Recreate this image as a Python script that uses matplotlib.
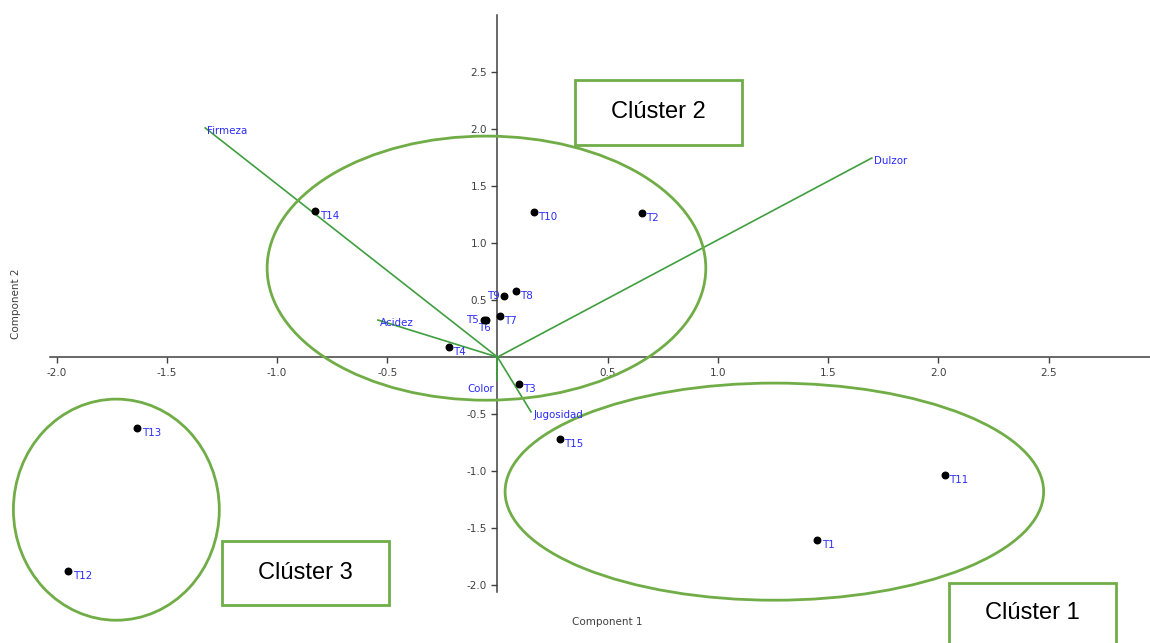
import matplotlib.pyplot as plt
from matplotlib.patches import Ellipse, Rectangle

plt.rcParams['axes.unicode_minus'] = False
plt.rcParams['font.family'] = ['DejaVu Sans']

# Puntuaciones de los tratamientos
tratamientos = ['T1', 'T2', 'T3', 'T4', 'T5', 'T6', 'T7', 'T8', 'T9', 'T10',
                'T11', 'T12', 'T13', 'T14', 'T15']
comp1 = [1.45, 0.655, 0.097, -0.22, -0.062, -0.052, 0.01, 0.084, 0.03, 0.165,
         2.03, -1.947, -1.634, -0.827, 0.283]
comp2 = [-1.605, 1.26, -0.237, 0.088, 0.325, 0.325, 0.36, 0.58, 0.54, 1.27,
         -1.035, -1.877, -0.623, 1.28, -0.72]

# Cargas de las variables
variables = ['Firmeza', 'Dulzor', 'Acidez', 'Jugosidad', 'Color']
carga1 = [-1.326, 1.698, -0.542, 0.152, 0.0]
carga2 = [2.01, 1.746, 0.325, -0.48, -0.2]

# Clústeres: centro, ancho, alto
clusters = ['Clúster 1', 'Clúster 2', 'Clúster 3']
centro_x = [1.256, -0.05, -1.729]
centro_y = [-1.18, 0.78, -1.338]
ancho = [2.443, 1.99, 0.934]
alto = [1.904, 2.316, 1.939]

verde = '#70ad47'
azul = '#2b2bff'

fig = plt.figure(figsize=(11.5, 6.43), dpi=100)
ax = fig.add_axes([50/1150, 1-592/643, 1100/1150, 577/643])
ax.set_xlim(-2.03, 2.96)
ax.set_ylim(-2.06, 3.0)

# Ejes que pasan por el origen
for s in ['top', 'right']:
    ax.spines[s].set_visible(False)
ax.spines['left'].set_position(('data', 0))
ax.spines['bottom'].set_position(('data', 0))
for s in ['left', 'bottom']:
    ax.spines[s].set_color('#404040')
    ax.spines[s].set_linewidth(1.1)
    ax.spines[s].set_zorder(1)

xt = [-2.0, -1.5, -1.0, -0.5, 0.5, 1.0, 1.5, 2.0, 2.5]
yt = [-2.0, -1.5, -1.0, -0.5, 0.5, 1.0, 1.5, 2.0, 2.5]
ax.set_xticks(xt)
ax.set_xticklabels(['%.1f' % v for v in xt])
ax.set_yticks(yt)
ax.set_yticklabels(['%.1f' % v for v in yt])
ax.tick_params(labelsize=7.5, colors='#404040', length=4, width=1, direction='out')

# Vectores de carga
for v, a, b in zip(variables, carga1, carga2):
    ax.plot([0, a], [0, b], color='#3f9f3f', lw=1.2, zorder=2)
    if v == 'Color':
        ax.text(a - 0.015, b - 0.08, v, color=azul, fontsize=7.4, ha='right', va='center', zorder=4)
    else:
        ax.text(a + 0.01, b - 0.03, v, color=azul, fontsize=7.4, ha='left', va='center', zorder=4)

# Elipses de los clústeres
for cx, cy, w, h in zip(centro_x, centro_y, ancho, alto):
    ax.add_patch(Ellipse((cx, cy), w, h, fill=False, edgecolor=verde, lw=2, clip_on=False, zorder=3))

# Puntos
ax.scatter(comp1, comp2, s=22, color='black', zorder=5)
for t, a, b in zip(tratamientos, comp1, comp2):
    if t == 'T9':
        ax.text(a - 0.02, b, t, color=azul, fontsize=7.4, ha='right', va='center', zorder=4)
    elif t == 'T5':
        ax.text(a - 0.025, b, t, color=azul, fontsize=7.4, ha='right', va='center', zorder=4)
    elif t == 'T6':
        ax.text(a - 0.035, b - 0.07, t, color=azul, fontsize=7.4, ha='left', va='center', zorder=4)
    else:
        ax.text(a + 0.02, b - 0.04, t, color=azul, fontsize=7.4, ha='left', va='center', zorder=4)

ax.set_xlabel('Component 1', fontsize=7.5, color='#404040')
ax.set_ylabel('Component 2', fontsize=7.5, color='#404040')
ax.xaxis.set_label_coords(0.507, -0.043)
ax.yaxis.set_label_coords(-0.026, 0.5)

# Cuadros de los clústeres (en píxeles de la figura)
cajas = [(949, 583, 167, 70), (575, 80, 167, 65), (222, 541, 167, 64)]
for nombre, (x0, y0, w, h) in zip(clusters, cajas):
    fig.patches.append(Rectangle((x0/1150, 1-(y0+h)/643), w/1150, h/643, fill=False,
                                 edgecolor=verde, lw=2, transform=fig.transFigure))
    yc = y0 + min(h, 643 - y0) / 2 if y0 + h > 643 else y0 + h/2
    fig.text((x0 + w/2)/1150, 1 - yc/643, nombre, fontsize=17, ha='center', va='center',
             family='Liberation Sans')

fig.savefig('out.png', dpi=100)
